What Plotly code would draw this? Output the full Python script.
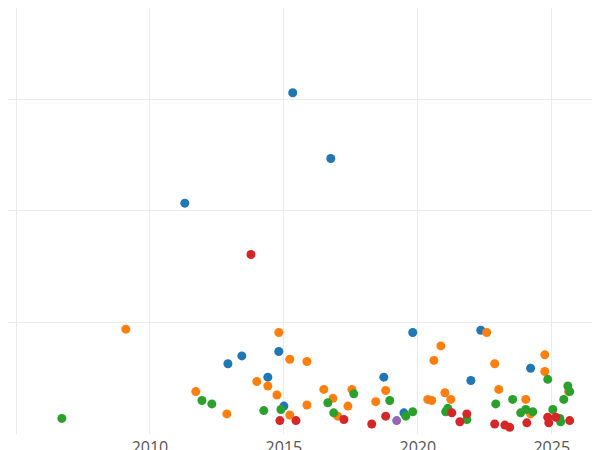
import plotly.graph_objects as go

blue_x = [2015.33, 2016.75, 2011.30, 2012.91, 2013.43, 2014.81, 2014.40, 2015.00, 2018.73, 2019.81, 2019.48, 2021.98, 2022.35, 2024.21]
blue_y = [3.06, 2.47, 2.07, 0.63, 0.70, 0.74, 0.51, 0.25, 0.51, 0.91, 0.19, 0.48, 0.93, 0.59]

orange_x = [2009.10, 2011.71, 2012.87, 2013.99, 2014.40, 2014.74, 2014.81, 2015.22, 2015.22, 2015.86, 2015.86,
            2016.49, 2016.83, 2017.01, 2017.39, 2017.54, 2018.43, 2018.80, 2020.37, 2020.52, 2020.60, 2020.86,
            2021.01, 2021.23, 2022.57, 2022.87, 2023.02, 2024.03, 2024.21, 2024.74, 2024.74, 2025.63]
orange_y = [0.94, 0.38, 0.18, 0.47, 0.43, 0.35, 0.91, 0.67, 0.17, 0.65, 0.26,
            0.40, 0.32, 0.16, 0.25, 0.40, 0.29, 0.39, 0.31, 0.30, 0.66, 0.79,
            0.37, 0.31, 0.91, 0.63, 0.40, 0.31, 0.18, 0.71, 0.56, 0.38]

green_x = [2006.71, 2011.94, 2012.31, 2014.25, 2014.89, 2016.64, 2016.86, 2017.61, 2018.95, 2019.55, 2019.81,
           2021.04, 2021.12, 2021.83, 2022.91, 2023.54, 2023.84, 2024.03, 2024.29, 2024.85, 2025.04, 2025.30,
           2025.45, 2025.60, 2025.67, 2025.33]
green_y = [0.14, 0.30, 0.27, 0.21, 0.22, 0.28, 0.19, 0.36, 0.30, 0.16, 0.20,
           0.20, 0.23, 0.13, 0.27, 0.31, 0.19, 0.22, 0.20, 0.49, 0.22, 0.14,
           0.31, 0.43, 0.38, 0.11]

red_x = [2013.77, 2014.85, 2015.45, 2017.24, 2018.28, 2018.80, 2021.27, 2021.57, 2021.83, 2022.87, 2023.25,
         2023.43, 2024.07, 2024.85, 2024.89, 2025.15, 2025.67]
red_y = [1.61, 0.12, 0.12, 0.13, 0.09, 0.16, 0.19, 0.11, 0.18, 0.09, 0.08,
         0.06, 0.10, 0.15, 0.10, 0.15, 0.12]

purple_x = [2019.21]
purple_y = [0.12]

series = [
    (blue_x, blue_y, "#1f77b4"),
    (orange_x, orange_y, "#ff7f0e"),
    (green_x, green_y, "#2ca02c"),
    (red_x, red_y, "#d62728"),
    (purple_x, purple_y, "#9467bd"),
]

fig = go.Figure()
for xs, ys, color in series:
    fig.add_trace(go.Scatter(x=xs, y=ys, mode="markers", cliponaxis=False,
                             marker=dict(color=color, size=9), showlegend=False))

fig.update_layout(
    width=600, height=450,
    template="plotly_white",
    margin=dict(l=0, r=0, t=0, b=24, pad=0),
    font=dict(family="Open Sans", size=16, color="#555"),
)
fig.update_xaxes(range=[2004.7, 2027.1], tickvals=[2005, 2010, 2015, 2020, 2025],
                 ticktext=["", "2010", "2015", "2020", "2025"], ticklabelstandoff=2,
                 gridcolor="#ebebeb", zeroline=False, showline=False, automargin=False)
fig.update_yaxes(range=[0, 3.82], dtick=1, showticklabels=False,
                 gridcolor="#ebebeb", zeroline=False, automargin=False)

fig.write_html("out.html")
